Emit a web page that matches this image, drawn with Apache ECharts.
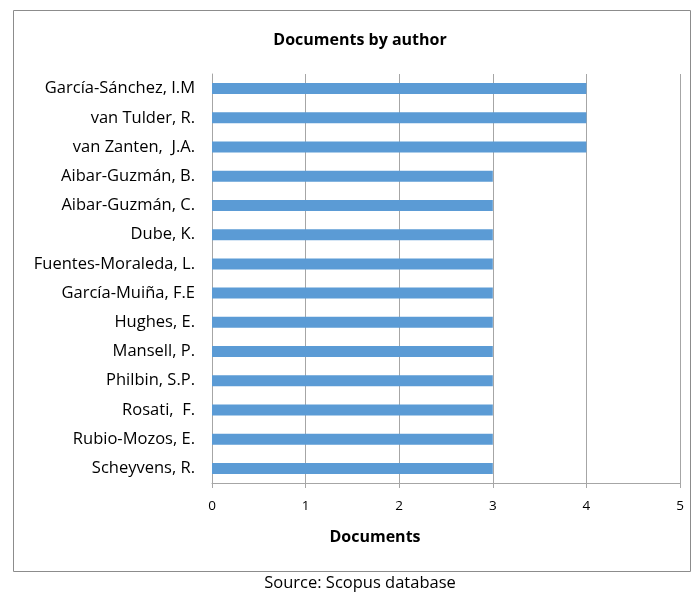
<!DOCTYPE html>
<html><head><meta charset="utf-8">
<script src="https://cdn.jsdelivr.net/npm/echarts@6/dist/echarts.min.js"></script>
<style>html,body{margin:0;padding:0;background:#fff}#c{width:694px;height:595px}</style>
</head><body><div id="c"></div>
<script>
const authors = ["García-Sánchez, I.M","van Tulder, R.","van Zanten,  J.A.","Aibar-Guzmán, B.","Aibar-Guzmán, C.","Dube, K.","Fuentes-Moraleda, L.","García-Muiña, F.E","Hughes, E.","Mansell, P.","Philbin, S.P.","Rosati,  F.","Rubio-Mozos, E.","Scheyvens, R."];
const documents = [4,4,4,3,3,3,3,3,3,3,3,3,3,3];
const xTicks = [0,1,2,3,4,5];
const FONT = "'Open Sans', 'Noto Sans', sans-serif";
const chart = echarts.init(document.getElementById('c'), null, {renderer:'canvas'});
chart.setOption({
  animation:false,
  graphic:[
    {type:'rect',shape:{x:13.5,y:10.5,width:677,height:561},style:{fill:'none',stroke:'#8c8c8c',lineWidth:1},z:-1},
    {type:'text',x:360,y:40,style:{text:'Documents by author',fontFamily:FONT,fontSize:16,fontWeight:'bold',fill:'#000',align:'center',verticalAlign:'middle'}},
    {type:'text',x:375,y:537,style:{text:'Documents',fontFamily:FONT,fontSize:16,fontWeight:'bold',fill:'#000',align:'center',verticalAlign:'middle'}},
    {type:'text',x:360,y:583,style:{text:'Source: Scopus database',fontFamily:FONT,fontSize:16.5,fill:'#000',align:'center',verticalAlign:'middle'}}
  ],
  grid:{left:212,right:14,top:74,bottom:112},
  xAxis:{type:'value',min:xTicks[0],max:xTicks[xTicks.length-1],interval:1,
    axisLine:{show:true,lineStyle:{color:'#a6a6a6'}},
    axisTick:{show:true,length:5,lineStyle:{color:'#a6a6a6'}},
    axisLabel:{fontFamily:FONT,fontSize:13.5,color:'#000',margin:16},
    splitLine:{show:true,lineStyle:{color:'#a6a6a6',width:1}}},
  yAxis:{type:'category',data:authors,inverse:true,
    axisLine:{show:true,lineStyle:{color:'#a6a6a6'}},
    axisTick:{show:false},
    axisLabel:{fontFamily:FONT,fontSize:16.5,color:'#000',margin:17}},
  series:[{type:'bar',data:documents,barWidth:11,itemStyle:{color:'#5b9bd5'}}]
});
</script></body></html>
